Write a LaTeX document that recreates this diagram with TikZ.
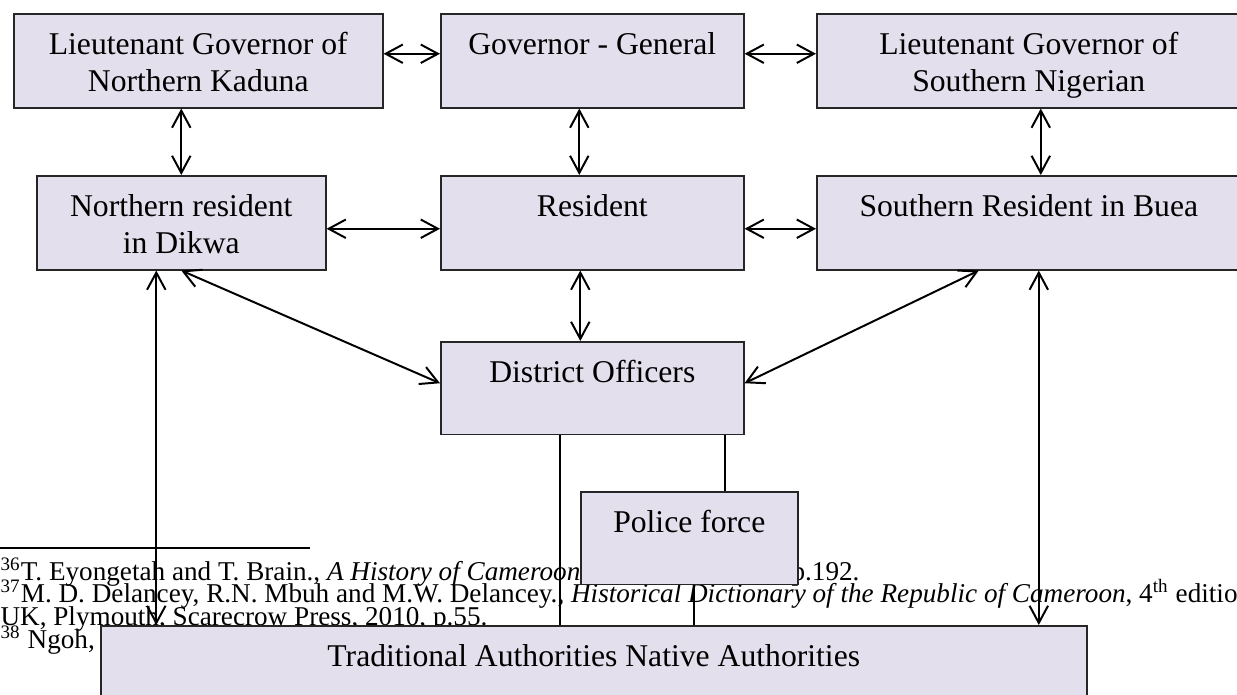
\documentclass[tikz,border=0pt]{standalone}
\usepackage{fontspec}
\setmainfont{Liberation Serif}
\usetikzlibrary{arrows.meta,calc}
\definecolor{boxfill}{HTML}{E4DFEC}

\begin{document}
\begin{tikzpicture}[x=0.379pt,y=-0.379pt]
	\tikzset{unit/.style={draw=black!85,line width=0.6pt,fill=boxfill,anchor=north west,align=center,inner sep=0pt,font=\fontsize{12}{14}\selectfont,text height=15.5pt,text depth=20.1pt}}
	\tikzset{twoline/.style={text height=29.5pt,text depth=6.1pt}}
	\tikzset{link/.style={line width=0.75pt,{Straight Barb[length=6.5pt,width=7pt]}-{Straight Barb[length=6.5pt,width=7pt]}}}
	\tikzset{plain/.style={line width=0.75pt}}
	\tikzset{note/.style={anchor=base west,inner sep=0pt,font=\fontsize{10.3}{12}\selectfont}}
	\useasboundingbox (0,0) rectangle (1237,695);
	\draw[plain] (0,548) coordinate (rulestart) -- (310,548) coordinate (ruleend);
	\node[note] (fn36) at (0,580) {\textsuperscript{36}T. Eyongetah and T. Brain., \textit{A History of Cameroon}};
	\node[note] (fn36b) at (791,580) {p.192.};
	\node[note] (fn37) at (0,602) {\textsuperscript{37}M. D. Delancey, R.N. Mbuh and M.W. Delancey., \textit{Historical Dictionary of the Republic of Cameroon}, 4\textsuperscript{th} editio};
	\node[note] (fn37b) at (0,625) {UK, Plymouth, Scarecrow Press, 2010, p.55.};
	\node[note] (fn38) at (0,648) {\textsuperscript{38} Ngoh,};
	\node[unit,twoline,minimum width=139.85pt] (lgn) at (13,13) {Lieutenant Governor of\\Northern Kaduna};
	\node[unit,minimum width=114.84pt] (gov) at (440,13) {Governor - General};
	\node[unit,twoline,minimum width=160.7pt] (lgs) at (816,13) {Lieutenant Governor of\\Southern Nigerian};
	\node[unit,twoline,minimum width=109.53pt] (nr) at (36,175) {Northern resident\\in Dikwa};
	\node[unit,minimum width=114.84pt] (res) at (440,175) {Resident};
	\node[unit,minimum width=160.7pt] (sr) at (816,175) {Southern Resident in Buea};
	\node[unit,minimum width=114.84pt,text depth=19.7pt] (dist) at (440,341) {District Officers};
	\node[unit,minimum width=82.24pt,text depth=19.7pt] (pol) at (580,491) {Police force};
	\node[unit,minimum width=373.69pt,text depth=14.8pt] (trad) at (100,625) {Traditional Authorities Native Authorities};
	\draw[link] ($(lgn.east)+(0,-7)$) -- ($(gov.west)+(0,-7)$);
	\draw[link] ($(gov.east)+(0,-7)$) -- ($(lgs.west)+(0,-7)$);
	\draw[link] (nr.north |- lgn.south) -- (nr.north);
	\draw[link] ($(gov.south)+(-13,0)$) -- ($(res.north)+(-13,0)$);
	\draw[link] ($(lgs.south)+(12,0)$) -- ($(sr.north)+(12,0)$);
	\draw[link] ($(nr.east)+(0,6)$) -- ($(res.west)+(0,6)$);
	\draw[link] ($(res.east)+(0,6)$) -- ($(sr.west)+(0,6)$);
	\draw[link] ($(res.south)+(-12,0)$) -- ($(dist.north)+(-12,0)$);
	\draw[link] (nr.south) -- ($(dist.west)+(0,-5)$);
	\draw[link] ($(sr.south)+(-50,0)$) -- ($(dist.east)+(0,-5)$);
	\draw[link] ($(nr.south)+(-25,0)$) coordinate (nrfoot) -- (nrfoot |- trad.north);
	\draw[link] ($(sr.south)+(10,0)$) coordinate (srfoot) -- (srfoot |- trad.north);
	\draw[plain] ($(dist.south)+(-32.5,0)$) coordinate (distfoot) -- (distfoot |- trad.north);
	\draw[plain] ($(dist.south)+(132.5,0)$) coordinate (distpol) -- (distpol |- pol.north);
	\draw[plain] ($(pol.south)+(4.5,0)$) coordinate (poltrad) -- (poltrad |- trad.north);
\end{tikzpicture}
\end{document}
